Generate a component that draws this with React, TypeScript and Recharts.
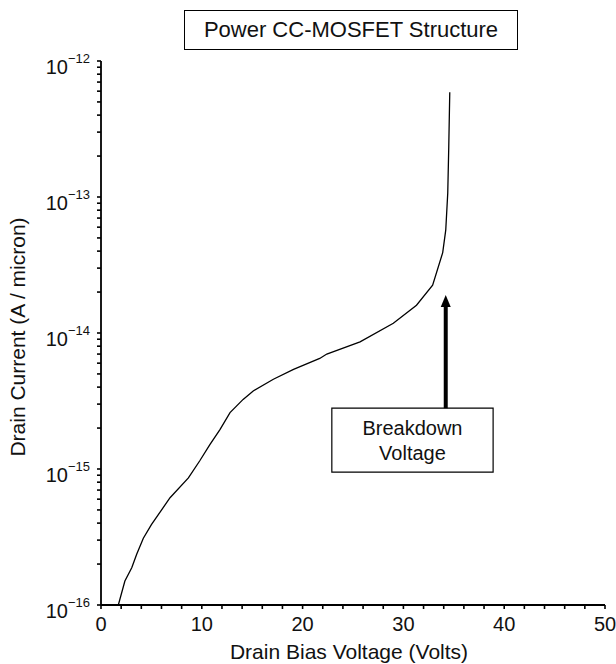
import { LineChart, Line, XAxis, YAxis, ReferenceArea, ReferenceLine } from "recharts";

// drain bias voltage (V) and drain current (A/micron)
const volts = [
  1.72, 2.37, 3.05, 3.54, 4.2, 5.0, 6.85, 8.67, 9.8, 10.8, 11.8, 12.8, 14.1, 15.1, 17.1, 19.1,
  21.7, 22.4, 25.7, 29.0, 31.3, 32.9, 33.9, 34.2, 34.4, 34.5, 34.6,
];
const current = [
  1.0e-16, 1.5e-16, 1.88e-16, 2.36e-16, 3.1e-16, 3.9e-16, 6.15e-16, 8.6e-16, 1.15e-15, 1.51e-15,
  1.95e-15, 2.6e-15, 3.25e-15, 3.75e-15, 4.57e-15, 5.4e-15, 6.5e-15, 7.0e-15, 8.6e-15, 1.18e-14,
  1.6e-14, 2.25e-14, 3.9e-14, 5.7e-14, 1.07e-13, 2.33e-13, 5.9e-13,
];

const xTicks = [0, 2, 4, 6, 8, 10, 12, 14, 16, 18, 20, 22, 24, 26, 28, 30, 32, 34, 36, 38, 40, 42, 44, 46, 48, 50];
const xLabels = [0, 10, 20, 30, 40, 50];
const yMajor = [1e-16, 1e-15, 1e-14, 1e-13, 1e-12];
const yExp = ["−16", "−15", "−14", "−13", "−12"];
const mantissas = [2, 3, 4, 5, 6, 7, 8, 9];

const title = "Power CC-MOSFET Structure";
const xTitle = "Drain Bias Voltage (Volts)";
const yTitle = "Drain Current (A / micron)";
const noteLines = ["Breakdown", "Voltage"];
const noteBox = { x1: 22.9, x2: 38.9, y1: 9.5e-16, y2: 2.8e-15 };
const arrow = { x: 34.2, from: 2.8e-15, to: 1.9e-14 };

const data = volts.map((v, i) => ({ v, i: current[i] }));
const yTicks = [
  ...yMajor,
  ...yMajor.slice(0, -1).flatMap((d) => mantissas.map((m) => m * d)),
].sort((a, b) => a - b);

const FONT = "'Liberation Sans', Arial, sans-serif";
const TICK_LINE = { stroke: "#000", strokeWidth: 1.6 };
const AXIS_LINE = { stroke: "#000", strokeWidth: 1.8 };

const XTick = ({ x, y, payload }: any) => {
  const v = payload.value;
  if (!xLabels.includes(v)) return <g />;
  return (
    <text x={x} y={y + 22} textAnchor="middle" fontSize={20} fontFamily={FONT} fill="#111">
      {v}
    </text>
  );
};

const YTick = ({ x, y, payload }: any) => {
  const idx = yMajor.findIndex((d) => Math.abs(payload.value / d - 1) < 1e-6);
  if (idx < 0) return <g />;
  return (
    <text x={x - 7} y={y + 13} textAnchor="end" fontSize={20} fontFamily={FONT} fill="#111">
      10
      <tspan dy={-11} fontSize={13}>
        {yExp[idx]}
      </tspan>
    </text>
  );
};

const Arrow = (p: any) => {
  const { x1, y1, x2, y2 } = p;
  const head = 12;
  return (
    <g>
      <line x1={x1} y1={y1} x2={x2} y2={y2 + head - 1} stroke="#000" strokeWidth={4} />
      <polygon points={`${x2},${y2} ${x2 - 5},${y2 + head} ${x2 + 5},${y2 + head}`} fill="#000" />
    </g>
  );
};

const NoteLabel = (p: any) => {
  const { x, y, width, height } = p.viewBox;
  const cx = x + width / 2;
  const cy = y + height / 2;
  return (
    <text textAnchor="middle" fontSize={20} fontFamily={FONT} fill="#111">
      <tspan x={cx} y={cy - 5}>{noteLines[0]}</tspan>
      <tspan x={cx} y={cy + 20}>{noteLines[1]}</tspan>
    </text>
  );
};

export default function App() {
  return (
    <div style={{ position: "absolute", left: 0, top: 0, width: 616, height: 664, background: "#fff" }}>
      <div
        style={{
          position: "absolute",
          left: 184,
          top: 10,
          width: 334,
          height: 40,
          boxSizing: "border-box",
          border: "1.5px solid #000",
          fontFamily: FONT,
          fontSize: 22,
          lineHeight: "37px",
          textAlign: "center",
          color: "#111",
        }}
      >
        {title}
      </div>
      <LineChart width={616} height={664} data={data} margin={{ top: 61, right: 11, bottom: 29, left: 41 }}>
        <XAxis
          xAxisId="b"
          dataKey="v"
          type="number"
          domain={[0, 50]}
          ticks={xTicks}
          interval={0}
          allowDataOverflow
          height={30}
          tickSize={4}
          tickMargin={0}
          tickLine={TICK_LINE}
          axisLine={AXIS_LINE}
          tick={<XTick />}
          label={(p: any) => (
            <text
              x={p.viewBox.x + p.viewBox.width / 2 - 4}
              y={659}
              textAnchor="middle"
              fontSize={21}
              fontFamily={FONT}
              fill="#111"
            >
              {xTitle}
            </text>
          )}
        />
        <XAxis
          xAxisId="t"
          dataKey="v"
          type="number"
          orientation="top"
          mirror
          domain={[0, 50]}
          ticks={xTicks}
          interval={0}
          allowDataOverflow
          height={0}
          tickSize={4}
          tickLine={TICK_LINE}
          axisLine={AXIS_LINE}
          tick={() => <g />}
        />
        <YAxis
          yAxisId="l"
          type="number"
          scale="log"
          domain={[1e-16, 1e-12]}
          ticks={yTicks}
          interval={0}
          allowDataOverflow
          width={60}
          tickSize={4}
          tickMargin={0}
          tickLine={TICK_LINE}
          axisLine={AXIS_LINE}
          tick={<YTick />}
          label={(p: any) => {
            const cx = 25;
            const cy = p.viewBox.y + p.viewBox.height / 2 + 4;
            return (
              <text
                x={cx}
                y={cy}
                transform={`rotate(-90, ${cx}, ${cy})`}
                textAnchor="middle"
                fontSize={21}
                fontFamily={FONT}
                fill="#111"
              >
                {yTitle}
              </text>
            );
          }}
        />
        <YAxis
          yAxisId="r"
          orientation="right"
          mirror
          type="number"
          scale="log"
          domain={[1e-16, 1e-12]}
          ticks={yTicks}
          interval={0}
          allowDataOverflow
          width={0}
          tickSize={4}
          tickLine={TICK_LINE}
          axisLine={AXIS_LINE}
          tick={() => <g />}
        />
        <Line
          xAxisId="b"
          yAxisId="l"
          dataKey="i"
          type="linear"
          stroke="#000"
          strokeWidth={1.3}
          dot={false}
          isAnimationActive={false}
        />
        <ReferenceArea
          xAxisId="b"
          yAxisId="l"
          x1={noteBox.x1}
          x2={noteBox.x2}
          y1={noteBox.y1}
          y2={noteBox.y2}
          fill="#fff"
          fillOpacity={1}
          stroke="#000"
          strokeWidth={1.2}
          label={NoteLabel}
        />
        <ReferenceLine
          xAxisId="b"
          yAxisId="l"
          segment={[
            { x: arrow.x, y: arrow.from },
            { x: arrow.x, y: arrow.to },
          ]}
          shape={Arrow}
        />
      </LineChart>
    </div>
  );
}
